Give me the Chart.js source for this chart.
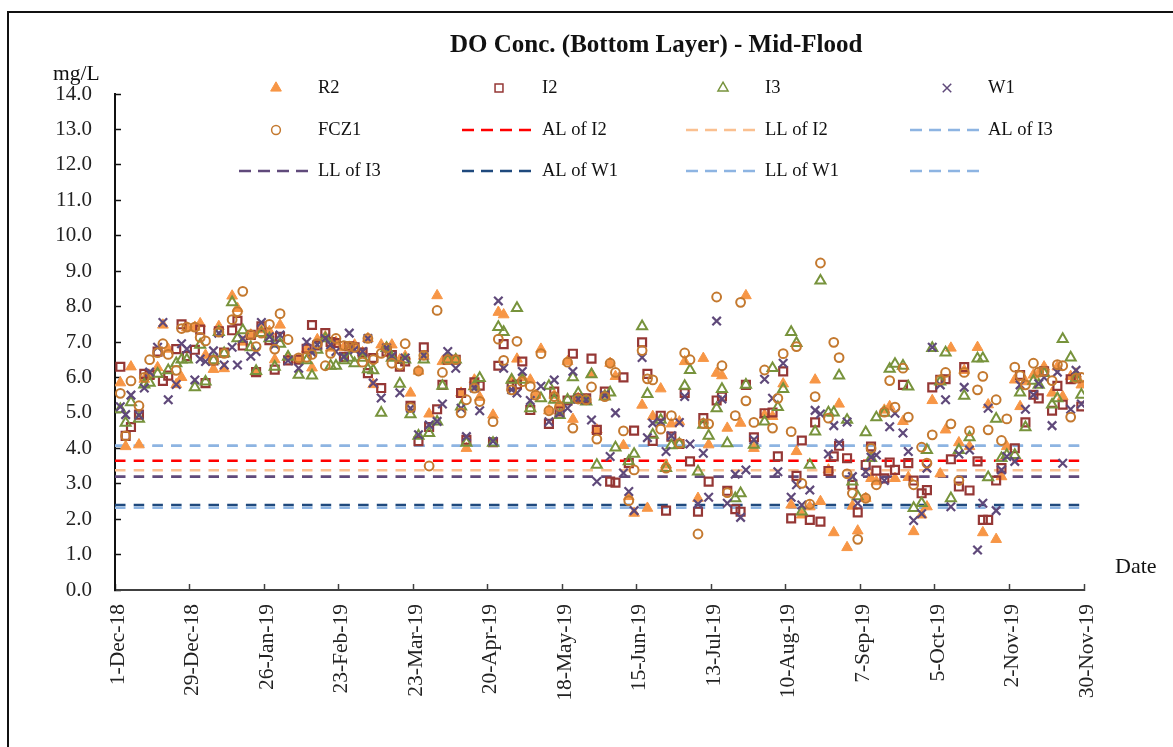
<!DOCTYPE html>
<html>
<head>
<meta charset="utf-8">
<title>DO Conc. (Bottom Layer) - Mid-Flood</title>
<script src="https://cdn.jsdelivr.net/npm/chart.js@4"></script>
<style>
    html, body { margin: 0; padding: 0; background: #fff; overflow: hidden; }
    #wrap { position: relative; width: 1173px; height: 747px; }
    #frame { position: absolute; left: 7px; top: 11px; width: 1180px; height: 760px; border: 2px solid #111; }
    canvas { position: absolute; left: 0; top: 0; }
</style>
</head>
<body>
<div id="wrap">
    <div id="frame"></div>
    <canvas id="chart" width="1173" height="747"></canvas>
</div>
<script>
// sampling days, counted from 1-Dec-18, one line = 4 weeks (one x tick)
var sampleDays = [
    2, 4, 6, 9, 11, 13, 16, 18, 20, 23, 25, 27,
    30, 32, 34, 37, 39, 41, 44, 46, 48, 51, 53, 55,
    58, 60, 62, 65, 67, 69, 72, 74, 76, 79, 81, 83,
    86, 88, 90, 93, 95, 97, 100, 102, 104, 107, 109, 111,
    114, 116, 118, 121, 123, 125, 128, 130, 132, 135, 137, 139,
    142, 144, 146, 149, 151, 153, 156, 158, 160, 163, 165, 167,
    170, 172, 174, 177, 179, 181, 184, 186, 188, 191, 193, 195,
    198, 200, 202, 205, 207, 209, 212, 214, 216, 219, 221, 223,
    226, 228, 230, 233, 235, 237, 240, 242, 244, 247, 249, 251,
    254, 256, 258, 261, 263, 265, 268, 270, 272, 275, 277, 279,
    282, 284, 286, 289, 291, 293, 296, 298, 300, 303, 305, 307,
    310, 312, 314, 317, 319, 321, 324, 326, 328, 331, 333, 335,
    338, 340, 342, 345, 347, 349, 352, 354, 356, 359, 361, 363
];

var r2Values = [
    5.85, 4.05, 6.3, 4.1, 5.95, 6.05, 6.28, 7.48, 6.8, 5.8, 6.0, 7.4,
    7.42, 7.52, 6.63, 6.23, 7.44, 6.25, 8.3, 7.95, 7.0, 7.2, 6.15, 7.35,
    7.3, 6.5, 7.48, 6.58, null, 6.5, 6.8, 6.27, 7.07, 7.15, 6.83, 7.0,
    6.85, 6.85, 6.92, 6.7, 7.1, 5.8, 6.92, 6.83, 6.92, 6.5, 6.6, 5.56,
    6.18, 6.6, 4.97, 8.31, 6.45, 6.5, 6.5, 5.56, 4.0, 5.93, 5.44, null,
    4.94, 7.84, 7.77, 5.93, 6.52, 6.0, 5.93, 5.5, 6.8, 5.06, 5.5, 5.22,
    6.45, 4.82, 5.41, 5.37, 6.09, 4.52, 5.5, 6.4, 6.03, 4.08, 2.64, 2.17,
    5.22, 2.31, 4.9, 5.68, 3.53, 4.69, 4.75, 6.45, null, 2.59, 6.54, 4.1,
    6.12, 6.05, 4.57, null, 4.71, 8.31, 4.0, null, 4.94, 4.9, null, 5.82,
    2.4, 3.91, 2.12, 2.35, 5.93, 2.5, 3.39, 1.62, 5.25, 1.2, 2.37, 1.67,
    2.59, 3.15, 3.06, 5.08, 5.18, 3.15, 4.76, 3.18, 1.65, 2.12, 2.35, 5.35,
    3.28, 4.52, 6.83, 4.16, 6.2, 4.05, 6.85, 1.62, 5.23, 1.43, 3.2, 4.05,
    5.93, 5.18, 5.88, 6.07, 6.12, 6.3, 5.56, 6.3, 5.46, 6.03, 6.1, 5.79
];
var i2Values = [
    6.3, 4.35, 4.6, 4.95, 6.1, 6.07, 6.73, 5.9, 6.05, 6.8, 7.5, 6.6,
    6.78, 7.35, 5.84, 6.48, 7.3, 6.7, 7.33, 7.6, 6.9, 7.2, 6.15, 7.44,
    7.05, 6.22, 7.15, 6.48, null, 6.5, 6.81, 7.48, 6.9, 7.25, 7.0, 6.97,
    6.58, 6.88, 6.85, 6.7, 6.12, 6.55, 5.7, 6.73, 6.63, 6.3, 6.45, 5.2,
    4.2, 6.85, 4.6, 5.1, 5.79, 6.5, 6.5, 5.56, 4.24, 5.86, 5.77, null,
    4.17, 6.33, 6.94, 5.76, 5.8, 6.45, 5.08, null, null, 4.69, 5.6, 5.04,
    5.35, 6.67, 5.41, 5.41, 6.53, 4.52, 5.6, 3.06, 3.03, 6.0, 3.58, 4.5,
    6.99, 6.1, 4.21, 4.92, 2.24, 4.33, 4.12, 5.56, 3.63, 2.21, 4.85, 3.06,
    5.35, 5.46, 2.8, 2.28, 2.21, 5.79, 4.31, null, 4.99, 5.01, 3.77, 6.17,
    2.02, 3.22, 4.22, 1.98, 4.73, 1.93, 3.36, 3.77, 4.07, 3.72, 2.97, 2.19,
    3.53, 4.05, 3.37, 3.15, 3.6, 3.39, 5.79, 3.58, 3.09, 2.73, 2.82, 5.72,
    5.93, 5.95, 3.69, 2.92, 6.29, 2.81, 3.63, 1.98, 1.98, 3.09, 3.44, null,
    4.0, 6.07, 4.73, 5.51, 5.41, 6.17, 5.06, 5.76, 5.23, 5.95, 5.98, 5.18
];
var i3Values = [
    5.1, 4.72, 5.3, 4.83, 5.8, 5.85, 6.1, null, 6.2, 6.4, 6.5, 6.5,
    5.72, 6.92, 5.88, 6.48, 7.28, 6.68, 8.12, 7.1, 7.33, 6.85, 6.18, 7.25,
    7.1, 6.3, 6.95, 6.58, null, 6.07, 6.48, 6.05, 6.78, 7.1, 6.33, 6.33,
    6.48, 6.55, 6.4, 6.55, 6.23, 6.2, 5.0, 6.83, 6.55, 5.82, 6.5, 4.96,
    4.35, 6.5, 4.43, 4.75, 5.76, 6.5, 6.5, 5.18, 4.15, 5.75, 5.98, null,
    4.15, 7.42, 7.28, 5.93, 7.96, 5.93, 5.13, null, 5.41, 5.76, 5.37, 4.94,
    5.37, 6.0, 5.56, 5.32, 6.09, 3.53, 5.46, 5.57, 4.02, null, 3.63, 3.84,
    7.44, 5.53, 4.38, 4.8, 3.44, 4.08, 4.12, 5.76, 6.21, 3.34, 4.66, 4.35,
    5.13, 5.67, 4.14, 2.59, 2.73, 5.79, 4.1, null, 4.75, 6.26, 5.16, 5.67,
    7.28, 6.97, 2.21, 3.53, 4.47, 8.73, 5.01, 5.01, 6.05, 4.8, 3.06, 2.64,
    4.45, 3.72, 4.87, 5.0, 6.24, 6.38, 6.33, 5.74, 2.31, 2.45, 3.95, 6.83,
    5.88, 6.7, 2.59, 3.95, 5.48, 4.31, 6.53, 6.54, 3.18, 4.83, 3.72, 3.81,
    3.81, 5.57, 4.59, 5.9, 5.79, 6.12, 5.23, 5.41, 7.08, 6.56, 5.98, 5.51
];
var w1Values = [
    5.17, 4.95, 5.5, 4.93, 5.7, 6.15, 6.85, 7.55, 5.37, 5.8, 6.95, 6.8,
    5.93, 6.52, 6.45, 6.75, 7.25, 6.35, 6.85, 6.35, 7.1, 6.6, 6.73, 7.55,
    7.15, 6.92, 7.2, 6.48, null, 6.26, 7.0, 6.7, 6.92, 7.1, 6.92, 6.73,
    6.58, 7.25, 6.78, 6.73, 7.1, 5.84, 5.42, 6.83, 6.6, 5.57, 6.55, 5.13,
    4.38, 6.62, 4.66, 4.76, 5.25, 6.73, 6.26, 5.13, 4.33, 5.7, 5.06, null,
    4.2, 8.16, 6.26, 5.65, 5.56, 6.17, 5.35, null, 5.75, 4.75, 5.93, 5.0,
    5.13, 6.17, 5.39, 5.37, 4.8, 3.06, 5.5, 3.77, 5.0, 3.3, 2.78, 2.24,
    6.56, 4.3, 4.71, 4.75, 3.91, 4.35, 4.73, 5.46, 4.12, 2.43, 3.86, 2.62,
    7.59, 5.39, 2.45, 3.27, 2.05, 3.39, 4.24, null, 5.95, 5.41, 3.34, 6.4,
    2.62, 2.97, 2.4, 2.82, 5.07, 4.97, 3.84, 4.64, 4.14, 4.74, 3.2, 2.45,
    3.34, 3.75, 3.81, 3.09, 4.61, 4.99, 4.43, 3.91, 1.96, 2.15, 3.44, 6.85,
    5.79, 5.37, 2.35, 3.84, 5.72, 3.95, 1.13, 2.45, 5.13, 2.24, 3.39, 3.77,
    3.63, 5.79, 5.1, 5.51, 5.82, 6.0, 4.64, 6.15, 3.58, 5.1, 6.2, 5.25
];
var fcz1Values = [
    5.55, 4.35, 5.9, 5.2, 6.0, 6.5, 6.7, 6.95, 6.65, 6.2, 7.38, 7.42,
    7.42, 7.13, 7.03, 6.48, 7.28, 6.68, 7.63, 7.86, 8.43, 7.2, 6.87, 7.25,
    7.5, 6.8, 7.8, 7.07, null, 6.55, 6.57, 6.65, 6.95, 6.33, 6.68, 7.1,
    6.9, 6.88, 6.85, 6.43, 7.1, 6.5, 6.68, 6.83, 6.4, 6.35, 6.95, 5.15,
    6.18, 6.62, 3.5, 7.89, 6.14, 6.5, 6.5, 5.0, 5.37, 5.7, 5.32, null,
    4.75, 7.08, 6.48, 5.65, 7.02, 5.88, 5.75, 5.5, 6.67, 5.06, 5.46, 5.18,
    6.43, 4.57, 5.39, 5.37, 5.73, 4.26, 5.46, 6.4, 6.14, 4.49, 2.52, 3.39,
    6.76, 5.96, 5.93, 4.54, 3.44, 4.92, 4.14, 6.69, 6.5, 1.58, 4.7, 4.69,
    8.27, 6.33, 2.75, 4.92, 8.12, 5.34, 4.73, null, 6.21, 4.57, 5.41, 6.67,
    4.47, 6.87, 3.01, 2.42, 5.46, 9.23, 4.85, 6.99, 6.56, 3.28, 2.73, 1.43,
    2.59, 4.0, 2.97, 5.02, 5.91, 5.16, 6.26, 4.88, 2.97, 4.03, 3.58, 4.38,
    5.93, 6.14, 4.69, 3.09, 6.14, 4.49, 5.65, 6.03, 4.52, 5.37, 4.22, 4.83,
    6.29, 6.05, 5.79, 6.4, 6.15, 6.17, 5.91, 6.36, 6.33, 4.88, 5.98, 6.0
];

// limit lines run the full axis
var limitDays = [0, 364];
var alI2 = [3.65, 3.65];
var llI2 = [3.38, 3.38];
var alI3 = [4.07, 4.07];
var llI3 = [3.2, 3.2];
var alW1 = [2.4, 2.4];
var llW1 = [2.32, 2.32];
var blankLine = [4.07, 4.07];

var tickLabels = ['1-Dec-18', '29-Dec-18', '26-Jan-19', '23-Feb-19', '23-Mar-19', '20-Apr-19', '18-May-19',
    '15-Jun-19', '13-Jul-19', '10-Aug-19', '7-Sep-19', '5-Oct-19', '2-Nov-19', '30-Nov-19'];

var SERIF = '"Liberation Serif", "Times New Roman", serif';

function pairs(days, values) {
    return days.map(function (d, i) {
        return { x: d, y: values[i] };
    });
}

function markers(label, values, style, color, radius, border, fill) {
    return {
        label: label,
        data: pairs(sampleDays, values),
        showLine: false,
        pointStyle: style,
        pointRadius: radius,
        pointBorderWidth: border,
        pointBorderColor: color,
        pointBackgroundColor: fill || 'transparent'
    };
}

function limit(label, values, color) {
    return {
        label: label,
        data: pairs(limitDays, values),
        showLine: true,
        borderColor: color,
        borderWidth: 2.6,
        borderDash: [10.5, 8.2],
        pointRadius: 0,
        isLimit: true
    };
}

var datasets = [
    markers('R2', r2Values, 'triangle', '#F79646', 6.2, 1, '#F79646'),
    markers('I2', i2Values, 'rect', '#953735', 5.6, 2.2),
    markers('I3', i3Values, 'triangle', '#77933C', 5.8, 2),
    markers('W1', w1Values, 'crossRot', '#5F497A', 6, 2.2),
    markers('FCZ1', fcz1Values, 'circle', '#C4792F', 4.4, 2),
    limit('AL of I2', alI2, '#FF0000'),
    limit('LL of I2', llI2, '#FAC090'),
    limit('AL of I3', alI3, '#8DB4E2'),
    limit('LL of I3', llI3, '#604A7B'),
    limit('AL of W1', alW1, '#1F497D'),
    limit('LL of W1', llW1, '#8DB4E2'),
    limit('', blankLine, '#8DB4E2')
];

// markers above the limit lines, later markers above earlier ones
datasets.forEach(function (ds, i) {
    ds.order = ds.isLimit ? 100 - i : 50 - i;
});

// the original legend is a 4 column grid with lines and markers, so draw it here
var legendCols = [
    { line: 239, text: 318 },
    { line: 462, text: 542 },
    { line: 686, text: 765 },
    { line: 910, text: 988 }
];
var legendRows = [88, 130, 171];

var chartText = {
    id: 'chartText',
    afterDraw: function (chart) {
        var ctx = chart.ctx;
        ctx.save();
        ctx.fillStyle = '#111';
        ctx.textBaseline = 'middle';
        ctx.textAlign = 'left';

        ctx.font = 'bold 25px ' + SERIF;
        ctx.fillText('DO Conc. (Bottom Layer) - Mid-Flood', 450, 46);

        ctx.font = '21.5px ' + SERIF;
        ctx.fillText('mg/L', 53, 74);
        ctx.font = '22px ' + SERIF;
        ctx.fillText('Date', 1115, 567);

        ctx.font = '18.5px ' + SERIF;
        chart.data.datasets.forEach(function (ds, i) {
            var col = legendCols[i % 4];
            var y = legendRows[Math.floor(i / 4)];
            if (ds.isLimit) {
                ctx.save();
                ctx.strokeStyle = ds.borderColor;
                ctx.lineWidth = ds.borderWidth;
                ctx.setLineDash([12, 7]);
                ctx.beginPath();
                ctx.moveTo(col.line, y);
                ctx.lineTo(col.line + 69, y);
                ctx.stroke();
                ctx.restore();
            } else {
                ctx.save();
                ctx.strokeStyle = ds.pointBorderColor;
                ctx.fillStyle = ds.pointBackgroundColor;
                ctx.lineWidth = Math.min(ds.pointBorderWidth, 1.5);
                Chart.helpers.drawPoint(ctx, { pointStyle: ds.pointStyle, radius: ds.pointRadius, rotation: 0, borderWidth: ctx.lineWidth }, col.line + 37, y);
                ctx.restore();
            }
            if (ds.label) {
                ctx.fillText(ds.label, col.text, y);
            }
        });
        ctx.restore();
    }
};

var ctx = document.getElementById('chart').getContext('2d');
var chart = new Chart(ctx, {
    type: 'scatter',
    data: { datasets: datasets },
    plugins: [chartText],
    options: {
        responsive: false,
        animation: false,
        layout: { autoPadding: false, padding: { top: 94, right: 89, left: 0, bottom: 0 } },
        plugins: {
            legend: { display: false },
            title: { display: false },
            tooltip: { enabled: false }
        },
        scales: {
            x: {
                type: 'linear',
                min: 0,
                max: 364,
                afterFit: function (scale) { scale.height = 157; },
                border: { color: '#404040', width: 2 },
                grid: { drawOnChartArea: false, tickLength: -6, tickColor: '#404040', tickWidth: 1.5 },
                ticks: {
                    stepSize: 28,
                    autoSkip: false,
                    minRotation: 90,
                    maxRotation: 90,
                    padding: 20,
                    labelOffset: 3,
                    color: '#222',
                    font: { family: SERIF, size: 21.5 },
                    callback: function (value, index) { return tickLabels[index]; }
                }
            },
            y: {
                min: 0,
                max: 14,
                afterFit: function (scale) { scale.width = 115; },
                border: { color: '#111', width: 2 },
                grid: { drawOnChartArea: false, tickLength: -6, tickColor: '#111', tickWidth: 1.5 },
                ticks: {
                    stepSize: 1,
                    padding: 29,
                    color: '#222',
                    font: { family: SERIF, size: 21 },
                    callback: function (value) { return value.toFixed(1); }
                }
            }
        }
    }
});
</script>
</body>
</html>
